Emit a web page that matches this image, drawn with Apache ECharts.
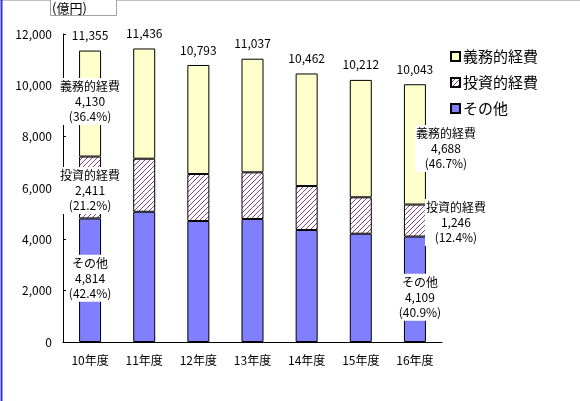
<!DOCTYPE html>
<html><head><meta charset="utf-8">
<script src="https://cdn.jsdelivr.net/npm/echarts@6/dist/echarts.min.js"></script>
<style>html,body{margin:0;padding:0;background:#fff;}#c{width:580px;height:401px;}</style>
</head><body><div id="c"></div>
<script>
var categories = ['10年度','11年度','12年度','13年度','14年度','15年度','16年度'];
var seriesNames = ['義務的経費','投資的経費','その他'];
var totals = [11355, 11436, 10793, 11037, 10462, 10212, 10043];
var duty = [4130, 4295, 4248, 4427, 4385, 4575, 4688];
var invest = [2411, 2066, 1831, 1819, 1714, 1418, 1246];
var other = [4814, 5075, 4714, 4791, 4363, 4219, 4109];
var yTicks = [0, 2000, 4000, 6000, 8000, 10000, 12000];

var FONT = '"Noto Sans CJK JP", "Noto Sans", sans-serif';
function fmt(v){ return v.toLocaleString('en-US'); }
function pct(v,i){ return (v/totals[i]*100).toFixed(1); }

// hatch pattern
var pc = document.createElement('canvas');
pc.width = 5; pc.height = 5;
var g = pc.getContext('2d');
g.fillStyle = '#ffffff'; g.fillRect(0,0,5,5);
g.strokeStyle = '#884488'; g.lineWidth = 1;
g.beginPath(); g.moveTo(0,5); g.lineTo(5,0); g.moveTo(-1,1); g.lineTo(1,-1); g.moveTo(4,6); g.lineTo(6,4); g.stroke();

var annLabel = {show:true, color:'#000', fontFamily:FONT, fontSize:12, lineHeight:15,
  backgroundColor:'#fff', padding:[1,1]};

function makeData(arr, name, ann){
  return arr.map(function(v,i){
    var item = {value:v};
    if (ann[i]) {
      item.label = Object.assign({}, annLabel, {
        position:'inside', offset: ann[i],
        formatter: name + '\n' + fmt(v) + '\n(' + pct(v,i) + '%)'
      });
    }
    return item;
  });
}

var dutyAnn = {0:[0,-2], 6:[31,4]};
var invAnn = {0:[0,3], 6:[41,2]};
var othAnn = {0:[0,-2], 6:[5,8]};

var barCommon = {type:'bar', stack:'s', barWidth:22,
  emphasis:{disabled:true}};

var option = {
  backgroundColor:'#fff',
  animation:false,
  textStyle:{fontFamily:FONT},
  grid:{left:63, right:138, top:34, bottom:59},
  legend:{
    data:['義務的経費','投資的経費','その他'],
    orient:'vertical', left:445, top:44, itemGap:11,
    itemWidth:9, itemHeight:9, icon:'rect',
    textStyle:{fontSize:15, color:'#000', fontFamily:FONT, padding:[0,0,0,-2]}
  },
  xAxis:{type:'category', data:categories,
    axisLine:{lineStyle:{color:'#000'}}, axisTick:{show:false},
    axisLabel:{color:'#000', fontSize:12, margin:12, fontFamily:FONT}},
  yAxis:{type:'value', min:0, max:12000, interval:2000,
    splitLine:{show:false},
    axisLine:{show:true, lineStyle:{color:'#000'}},
    axisTick:{show:true, inside:true, length:3, lineStyle:{color:'#000'}},
    axisLabel:{color:'#000', fontSize:12, margin:11, fontFamily:FONT,
      formatter:function(v){ return yTicks.indexOf(v) >= 0 ? fmt(v) : ''; }}},
  series:[
    Object.assign({}, barCommon, {name:'その他', data:makeData(other,'その他',othAnn),
      itemStyle:{color:'#8080ff', borderColor:'#000', borderWidth:1}}),
    Object.assign({}, barCommon, {name:'投資的経費', data:makeData(invest,'投資的経費',invAnn),
      itemStyle:{color:{image:pc, repeat:'repeat'}, borderColor:'#000', borderWidth:1}}),
    Object.assign({}, barCommon, {name:'義務的経費', data:makeData(duty,'義務的経費',dutyAnn),
      itemStyle:{color:'#ffffcc', borderColor:'#000', borderWidth:1}}),
    {type:'scatter', name:'total', data:totals, symbol:'rect', symbolSize:0,
      itemStyle:{color:'#000', opacity:1}, silent:true, z:5,
      label:{show:true, position:'top', distance:9, color:'#000', opacity:1, fontSize:12, fontFamily:FONT,
        formatter:function(p){ return fmt(p.value); }}}
  ],
  graphic:[
    {type:'line', shape:{x1:0, y1:0.5, x2:580, y2:0.5}, style:{stroke:'#c0c0c0', lineWidth:1}},
    {type:'line', shape:{x1:1.5, y1:0, x2:1.5, y2:401}, style:{stroke:'#3333cc', lineWidth:2}},
    {type:'rect', shape:{x:50.5, y:-1, width:66, height:16.5}, style:{fill:'#fff', stroke:'#a0a0a0', lineWidth:1}},
    {type:'text', x:52, y:8, style:{text:'(億円)', fontSize:13, fontFamily:FONT, fill:'#000', verticalAlign:'middle'}}
  ]
};
echarts.init(document.getElementById('c')).setOption(option);
</script></body></html>
